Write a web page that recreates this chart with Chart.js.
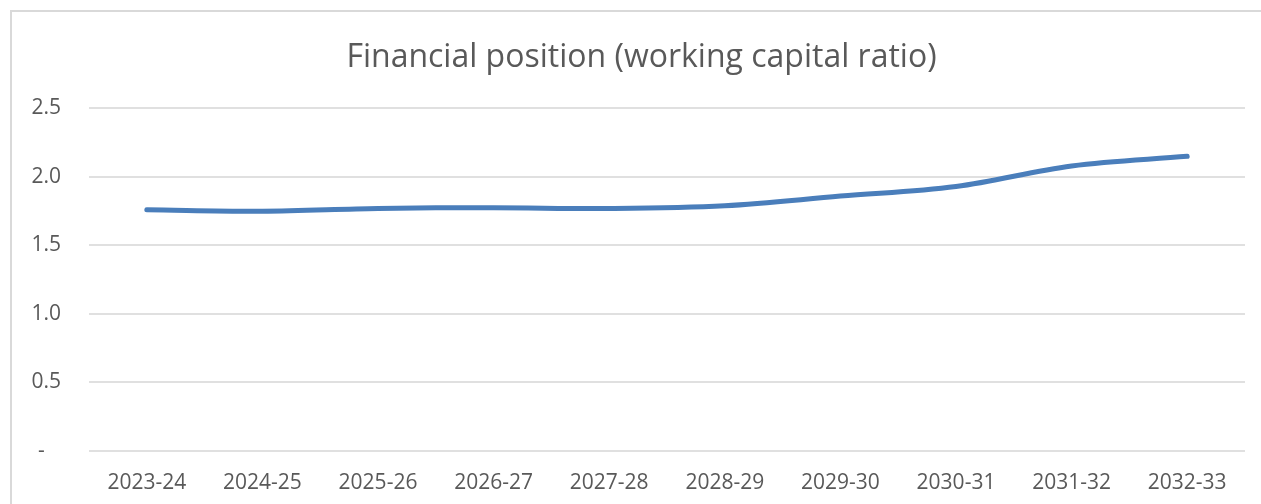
<!DOCTYPE html>
<html>
<head>
<meta charset="utf-8">
<title>Financial position (working capital ratio)</title>
<script src="https://cdn.jsdelivr.net/npm/chart.js@4.4.1/dist/chart.umd.min.js"></script>
<style>
  html, body { margin: 0; padding: 0; background: #fff; overflow: hidden; }
  #wrap { position: relative; width: 1261px; height: 504px; }
  #frame { position: absolute; left: 10px; top: 10px; width: 1400px; height: 700px;
           border: 2px solid #d9d9d9; box-sizing: border-box; }
  #mycanvas { position: absolute; left: 0; top: 0; }
</style>
</head>
<body>
<div id="wrap">
  <div id="frame"></div>
  <canvas id="mycanvas" width="1261" height="504"></canvas>
</div>
<script>
var years = ['2023-24', '2024-25', '2025-26', '2026-27', '2027-28',
             '2028-29', '2029-30', '2030-31', '2031-32', '2032-33'];
var ratio = [1.76, 1.75, 1.77, 1.775, 1.77, 1.79, 1.86, 1.93, 2.08, 2.15];
var yTicks = [0, 0.5, 1.0, 1.5, 2.0, 2.5];

var textColor = '#595959';
var gridColor = '#e0e0e0';

var chartdata = {
  labels: years,
  datasets: [
    {
      label: 'Working capital ratio',
      data: ratio,
      borderColor: '#4a7ebb',
      backgroundColor: '#4a7ebb',
      borderWidth: 5,
      borderCapStyle: 'round',
      borderJoinStyle: 'round',
      tension: 0.35,
      pointRadius: 0,
      fill: false
    }
  ]
};

// the original title sits a little right of the canvas centre
var titleShift = {
  id: 'titleShift',
  afterLayout: function(chart) {
    if (chart.titleBlock) chart.titleBlock.left += 38;
  }
};

var ctx = document.getElementById('mycanvas');
var lineGraph = new Chart(ctx, {
  type: 'line',
  data: chartdata,
  plugins: [titleShift],
  options: {
    responsive: false,
    animation: false,
    layout: { padding: { top: 10, right: 16, bottom: 0, left: 0 } },
    plugins: {
      legend: { display: false },
      tooltip: { enabled: false },
      title: {
        display: true,
        text: 'Financial position (working capital ratio)',
        color: textColor,
        font: { family: 'Open Sans', size: 32, weight: 'normal' },
        padding: { top: 29, bottom: 31 }
      }
    },
    scales: {
      x: {
        offset: true,
        grid: { display: false },
        border: { display: false },
        ticks: {
          color: textColor,
          font: { family: 'Open Sans', size: 21 },
          padding: 11,
          maxRotation: 0
        },
        afterFit: function(scale) { scale.height = 53; }
      },
      y: {
        min: 0,
        max: 2.5,
        afterBuildTicks: function(scale) {
          scale.ticks = yTicks.map(function(v) { return { value: v }; });
        },
        grid: { color: gridColor, lineWidth: 2, drawTicks: false },
        border: { display: false },
        ticks: {
          color: textColor,
          font: { family: 'Open Sans', size: 21 },
          padding: 28,
          callback: function(value) {
            return value === 0 ? '-   ' : value.toFixed(1);
          }
        },
        afterFit: function(scale) { scale.width = 89; }
      }
    }
  }
});
</script>
</body>
</html>
